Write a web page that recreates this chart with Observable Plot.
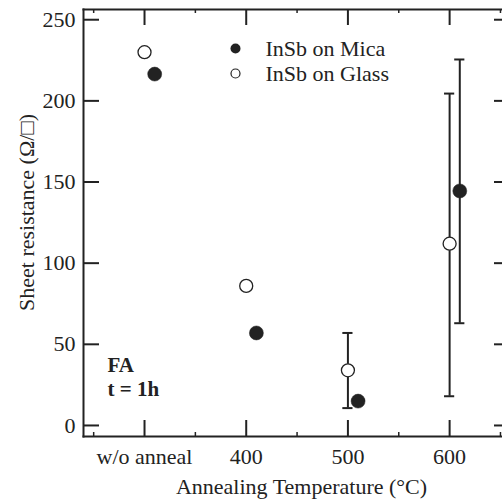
<!DOCTYPE html>
<html>
<head>
<meta charset="utf-8">
<script src="https://cdn.jsdelivr.net/npm/d3@7"></script>
<script src="https://cdn.jsdelivr.net/npm/@observablehq/plot@0.6"></script>
<style>
  html, body { margin: 0; padding: 0; background: #fff; }
</style>
</head>
<body>
<div id="chart"></div>
<script>
// Categories (w/o anneal placed at 300 on the temperature axis)
const temps = [300, 400, 500, 600];
const xTickValues = [300, 400, 500, 600];
const xTickLabels = ["w/o anneal", "400", "500", "600"];
const xMinorTicks = [250, 350, 450, 550, 650];
const yTickValues = [0, 50, 100, 150, 200, 250];

// InSb on Mica (plotted slightly offset to the right)
const micaOffset = 10;
const micaValues = [216.5, 57, 15, 144.5];
const micaErrLow = [null, null, null, 63];
const micaErrHigh = [null, null, null, 225.5];

// InSb on Glass
const glassValues = [230, 86, 34, 112];
const glassErrLow = [null, null, 10.7, 18];
const glassErrHigh = [null, null, 57, 204.5];

const mica = temps.map((t, i) => ({x: t + micaOffset, y: micaValues[i], lo: micaErrLow[i], hi: micaErrHigh[i]}));
const glass = temps.map((t, i) => ({x: t, y: glassValues[i], lo: glassErrLow[i], hi: glassErrHigh[i]}));
const errs = [...mica, ...glass].filter(d => d.lo != null);

const ink = "#222";
const capHalf = 5;
const fs = 22;
const W = 502, H = 501, mL = 83, mR = 0, mT = 9, mB = 65;
const fw = W - mL - mR, fh = H - mT - mB;

const chart = Plot.plot({
  width: W,
  height: H,
  marginLeft: mL,
  marginRight: mR,
  marginTop: mT,
  marginBottom: mB,
  x: {domain: [240, 652], axis: null},
  y: {domain: [-6.8, 256.3], axis: null},
  style: {fontFamily: "'Liberation Serif', 'Times New Roman', serif", fontSize: fs + "px", color: ink, background: "#fff"},
  marks: [
    Plot.frame({anchor: "left", stroke: ink, strokeWidth: 2}),
    Plot.frame({anchor: "top", stroke: ink, strokeWidth: 2}),
    Plot.frame({anchor: "bottom", stroke: ink, strokeWidth: 2}),
    // bottom/top major & minor ticks (inward)
    Plot.tickX(xTickValues, {x: d => d, insetTop: fh - 16, stroke: ink, strokeWidth: 2}),
    Plot.tickX(xTickValues, {x: d => d, insetBottom: fh - 16, stroke: ink, strokeWidth: 2}),
    Plot.tickX(xMinorTicks, {x: d => d, insetTop: fh - 4, stroke: ink, strokeWidth: 1.5}),
    Plot.tickX(xMinorTicks, {x: d => d, insetBottom: fh - 4, stroke: ink, strokeWidth: 1.5}),
    // left/right ticks
    Plot.tickY(yTickValues, {y: d => d, insetRight: fw - 16, stroke: ink, strokeWidth: 2}),
    Plot.tickY(yTickValues, {y: d => d, insetLeft: fw - 8, stroke: ink, strokeWidth: 2}),
    // tick labels
    Plot.text(xTickValues, {x: d => d, text: (d, i) => xTickLabels[i], frameAnchor: "bottom", lineAnchor: "bottom", dy: 27, fill: ink, fontSize: fs}),
    Plot.text(yTickValues, {y: d => d, text: d => String(d), frameAnchor: "left", textAnchor: "end", dx: -8, fill: ink, fontSize: fs}),
    // axis titles
    Plot.text(["Annealing Temperature (°C)"], {frameAnchor: "bottom", textAnchor: "middle", lineAnchor: "bottom", dx: 8.5, dy: 57, fill: ink, fontSize: fs}),
    Plot.text(["Sheet resistance (Ω/□)"], {frameAnchor: "left", textAnchor: "middle", lineAnchor: "bottom", rotate: -90, dx: -50, dy: -10.5, fill: ink, fontSize: fs}),
    // error bars
    Plot.ruleX(errs, {x: "x", y1: "lo", y2: "hi", stroke: ink, strokeWidth: 2}),
    Plot.ruleY(errs, {y: "lo", x1: d => d.x - capHalf, x2: d => d.x + capHalf, stroke: ink, strokeWidth: 2}),
    Plot.ruleY(errs, {y: "hi", x1: d => d.x - capHalf, x2: d => d.x + capHalf, stroke: ink, strokeWidth: 2}),
    // points
    Plot.dot(glass, {x: "x", y: "y", r: 6.5, fill: "#fff", stroke: ink, strokeWidth: 1.3}),
    Plot.dot(mica, {x: "x", y: "y", r: 7, fill: ink, stroke: ink, strokeWidth: 0.5}),
    // legend
    Plot.dot([0], {frameAnchor: "top-left", dx: 152, dy: 39, r: 5, fill: ink}),
    Plot.text(["InSb on Mica"], {frameAnchor: "top-left", textAnchor: "start", lineAnchor: "bottom", dx: 182, dy: 46, fill: ink, fontSize: fs}),
    Plot.dot([0], {frameAnchor: "top-left", dx: 152, dy: 64, r: 4.5, fill: "#fff", stroke: ink, strokeWidth: 1.2}),
    Plot.text(["InSb on Glass"], {frameAnchor: "top-left", textAnchor: "start", lineAnchor: "bottom", dx: 182, dy: 71, fill: ink, fontSize: fs}),
    // annotation
    Plot.text(["FA\nt = 1h"], {frameAnchor: "bottom-left", textAnchor: "start", lineAnchor: "bottom", lineHeight: 24 / 21, dx: 24, dy: -41, fill: ink, fontSize: 21, fontWeight: "bold"})
  ]
});
document.getElementById("chart").appendChild(chart);
</script>
</body>
</html>
